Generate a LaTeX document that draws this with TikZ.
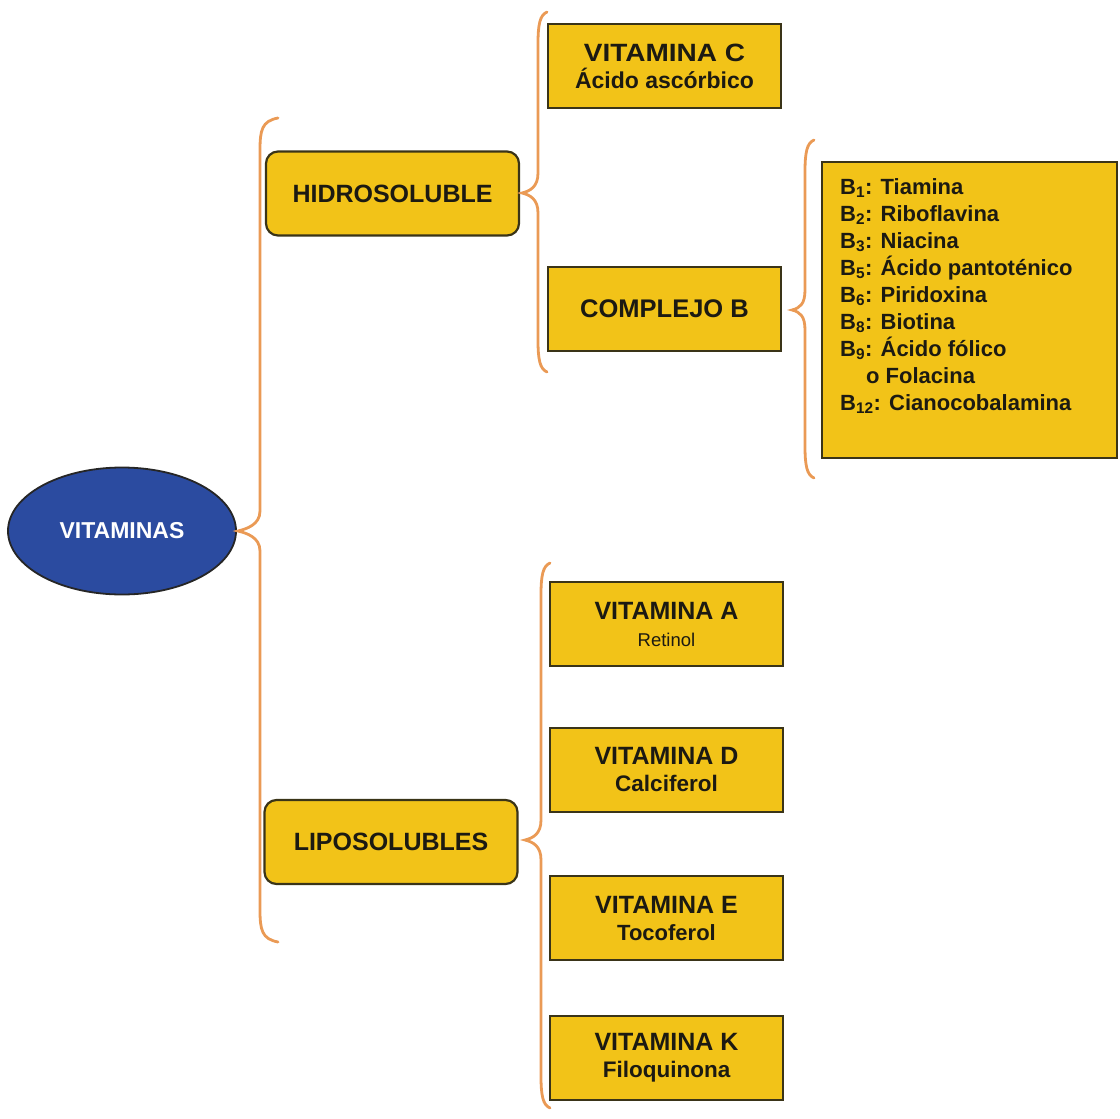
\documentclass[tikz,border=0pt]{standalone}
\usepackage{fontspec}
\setmainfont{Liberation Sans}
\usetikzlibrary{shapes.geometric}
\definecolor{boxfill}{HTML}{F2C318}
\definecolor{boxline}{HTML}{3A3418}
\definecolor{bracec}{HTML}{EA9A55}
\definecolor{ellfill}{HTML}{2B4BA0}
\definecolor{txt}{HTML}{1C1A12}
\newcommand\vbrace[6]{% tipx tipy spinex top bottom hook
  \draw[brace] (#3+#6,#4) .. controls (#3+2,#4+3) and (#3,#4+12) .. (#3,#4+32)
    -- (#3,#2-20) .. controls (#3,#2-6) and (#1+8,#2-2) .. (#1,#2)
    .. controls (#1+8,#2+2) and (#3,#2+6) .. (#3,#2+20)
    -- (#3,#5-32) .. controls (#3,#5-12) and (#3+2,#5-3) .. (#3+#6,#5);}
\begin{document}
\begin{tikzpicture}[x=1pt,y=-1pt,
  vbox/.style={draw=boxline, line width=2.2pt, fill=boxfill, minimum width=233pt,
    minimum height=84pt, inner sep=0pt, text=txt, align=center,
    font=\fontsize{25}{27}\selectfont\bfseries},
  catbox/.style={vbox, rounded corners=12pt, minimum width=253pt},
  brace/.style={draw=bracec, line width=2.8pt, line cap=round}]
\useasboundingbox (0,0) rectangle (1120,1119);

\node[ellipse, draw=black!85, line width=1.8pt, fill=ellfill, minimum width=228pt,
  minimum height=127pt, inner sep=0pt, text=white,
  font=\bfseries\fontsize{23}{26}\selectfont] (vit) at (122,531) {VITAMINAS};

\node[catbox] (hidro) at (392.5,193.5) {HIDROSOLUBLE};
\node[catbox] (lipo) at (391,842) {LIPOSOLUBLES};

\node[vbox] (vc) at (664.5,66) {\scalebox{1.12}[1]{VITAMINA C}\\{\fontsize{23}{27}\selectfont Ácido ascórbico}};
\node[vbox] (cb) at (664.5,309) {\fontsize{25.5}{27}\selectfont COMPLEJO B};

\node[vbox, minimum width=295pt, minimum height=296pt] (bbox) at (969.5,310) {};
\node[anchor=north west, inner sep=0pt, align=left, text=txt,
  font=\bfseries\fontsize{22}{27}\selectfont] (blist) at (840,178) {%
B\textsubscript{1}: Tiamina\\
B\textsubscript{2}: Riboflavina\\
B\textsubscript{3}: Niacina\\
B\textsubscript{5}: Ácido pantoténico\\
B\textsubscript{6}: Piridoxina\\
B\textsubscript{8}: Biotina\\
B\textsubscript{9}: Ácido fólico\\
\hspace*{26pt}o Folacina\\
B\textsubscript{12}: Cianocobalamina};

\node[vbox] (va) at (666.5,624) {VITAMINA A\\{\fontsize{18.5}{27}\selectfont\mdseries Retinol}};
\node[vbox] (vd) at (666.5,770) {VITAMINA D\\{\fontsize{22.5}{27}\selectfont Calciferol}};
\node[vbox] (ve) at (666.5,918) {VITAMINA E\\{\fontsize{22}{27}\selectfont Tocoferol}};
\node[vbox] (vk) at (666.5,1058) {VITAMINA K\\{\fontsize{22.5}{27}\selectfont Filoquinona}};

\vbrace{238}{531}{260}{118}{942}{18}
\vbrace{522}{193}{538}{12}{372}{9}
\vbrace{792}{310}{805}{140}{478}{9}
\vbrace{525}{840}{541}{563}{1108}{9}
\end{tikzpicture}
\end{document}
